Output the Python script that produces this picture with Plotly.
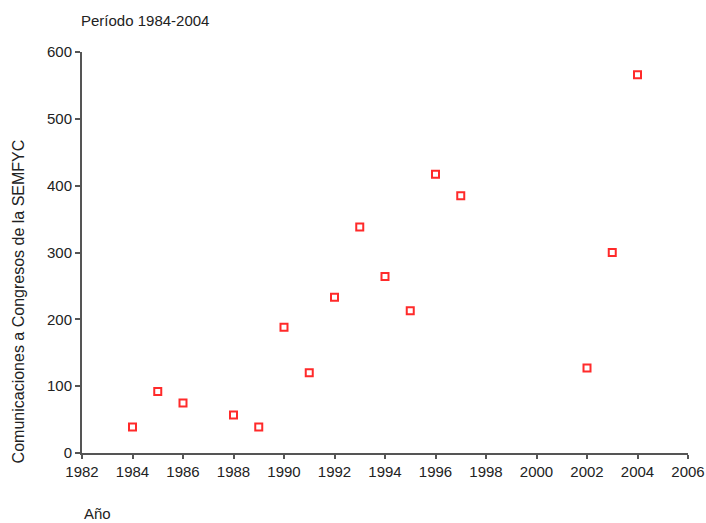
import plotly.graph_objects as go

years = [1984, 1985, 1986, 1988, 1989, 1990, 1991, 1992, 1993, 1994, 1995, 1996, 1997, 2002, 2003, 2004]
comunicaciones = [39, 92, 75, 57, 39, 188, 120, 233, 338, 264, 213, 417, 385, 127, 300, 566]

title_text = "Período 1984-2004"
x_title = "Año"
y_title = "Comunicaciones a Congresos de la SEMFYC"

FONT = "Liberation Sans, Arial, sans-serif"

fig = go.Figure()
fig.add_trace(go.Scatter(
    x=years, y=comunicaciones, mode="markers",
    marker=dict(symbol="square-open", size=7, color="#ff2a2a", line=dict(width=2, color="#ff2a2a")),
    showlegend=False, hoverinfo="skip",
))

fig.update_layout(
    width=706, height=523, autosize=False,
    margin=dict(l=82, r=18, t=52, b=70, autoexpand=False),
    paper_bgcolor="white", plot_bgcolor="white",
    font=dict(family=FONT, size=15, color="#222"),
    xaxis=dict(range=[1982, 2006], tickmode="linear", tick0=1982, dtick=2, automargin=False,
               showgrid=False, zeroline=False, showline=True, linecolor="#555", linewidth=2,
               ticks="outside", ticklen=4, tickwidth=1.5, tickcolor="#555",
               tickfont=dict(family=FONT, size=15, color="#222")),
    yaxis=dict(range=[0, 600], tickmode="linear", tick0=0, dtick=100, automargin=False,
               showgrid=False, zeroline=False, showline=True, linecolor="#555", linewidth=2,
               ticks="outside", ticklen=5, tickwidth=1.5, tickcolor="#555",
               tickfont=dict(family=FONT, size=15, color="#222")),
    annotations=[
        dict(text=title_text, xref="paper", yref="paper", x=-0.005, y=1.078,
             xanchor="left", yanchor="middle", showarrow=False,
             font=dict(family=FONT, size=15, color="#222")),
        dict(text=x_title, xref="paper", yref="paper", x=0.0, y=-0.152,
             xanchor="left", yanchor="middle", showarrow=False,
             font=dict(family=FONT, size=15, color="#222")),
        dict(text=y_title, xref="paper", yref="paper", x=-0.105, y=0.379,
             xanchor="center", yanchor="middle", textangle=-90, showarrow=False,
             font=dict(family=FONT, size=16, color="#222")),
    ],
)

fig.write_html("out.html", config={"displayModeBar": False},
               post_script="document.body.style.margin='0';document.body.style.overflow='hidden';")
